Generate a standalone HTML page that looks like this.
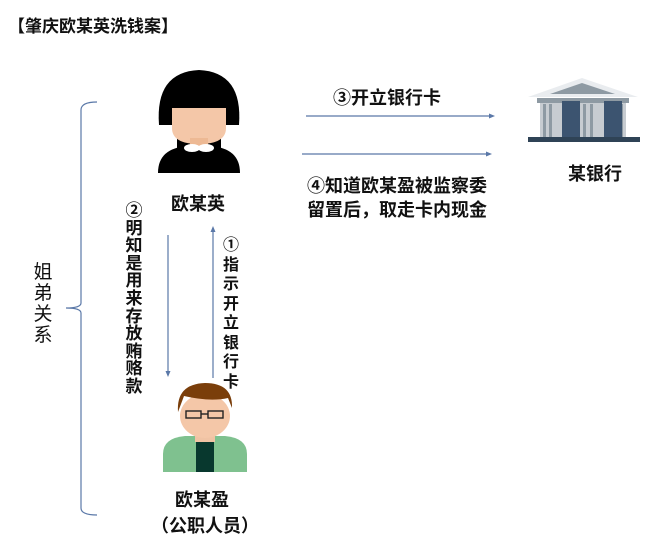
<!DOCTYPE html>
<html><head><meta charset="utf-8"><style>
body{margin:0;width:665px;height:542px;background:#fff;position:relative;overflow:hidden;font-family:"Liberation Sans","Noto Sans CJK SC",sans-serif;font-weight:bold;color:#111}
.t{position:absolute;white-space:nowrap}
.v{position:absolute;width:20px;text-align:center;font-size:17px;line-height:19.5px}
</style></head><body>
<div class="t" style="left:8px;top:12px;font-size:17px">【肇庆欧某英洗钱案】</div>
<div class="t" style="left:333px;top:84px;font-size:18px">③开立银行卡</div>
<div class="t" style="left:307px;top:174px;font-size:18px;line-height:24px">④知道欧某盈被监察委<br>留置后，取走卡内现金</div>
<div class="t" style="left:568px;top:160px;font-size:18px">某银行</div>
<div class="t" style="left:171px;top:190px;font-size:18px">欧某英</div>
<div class="t" style="left:175px;top:486px;font-size:18px">欧某盈</div>
<div class="t" style="left:151px;top:512px;font-size:18px">（公职人员）</div>
<div class="v" style="left:33px;top:262px;font-size:19px;line-height:21px;font-weight:normal">姐弟关系</div>
<div class="v" style="left:124px;top:202px;line-height:17.6px">②明知是用来存放贿赂款</div>
<div class="v" style="left:221px;top:236px;line-height:19.5px;font-size:16px">①指示开立银行卡</div>
<svg width="665" height="542" style="position:absolute;left:0;top:0">
<g stroke="#5a78a8" stroke-width="1.2" fill="none">
<path d="M97 102 Q81 102 81 110 L81 303 Q81 308 66 308 Q81 308 81 313 L81 508 Q81 515 97 515"/>
<line x1="306" y1="116" x2="492" y2="116"/><line x1="302" y1="154" x2="489" y2="154"/>
<line x1="168" y1="235" x2="168" y2="374"/><line x1="213" y1="378" x2="213" y2="229"/>
</g>
<g fill="#5a78a8"><path d="M495 116 l-6 -2.5 v5z"/><path d="M492 154 l-6 -2.5 v5z"/><path d="M168 377 l-2.5 -6 h5z"/><path d="M213 226 l-2.5 6 h5z"/></g>
<!-- woman -->
<path d="M159 125 Q155 72 199 70 Q243 72 239 125z" fill="#000"/>
<rect x="177" y="125" width="44" height="24" fill="#000"/>
<path d="M172 108 h54 v20 q0 16 -27 16 q-27 0 -27 -16z" fill="#f4c7a8"/>
<rect x="190" y="138" width="18" height="10" fill="#edb994"/>
<path d="M158 173 q0 -25 30 -27 h22 q30 2 30 27z" fill="#000"/>
<ellipse cx="192" cy="148" rx="8" ry="4" fill="#fff"/><ellipse cx="206" cy="148" rx="8" ry="4" fill="#fff"/>
<!-- man -->
<path d="M163 472 v-18 q0 -16 22 -18 h40 q22 2 22 18 v18z" fill="#7fc18f"/>
<rect x="196" y="440" width="18" height="32" fill="#08382e"/>
<rect x="195" y="430" width="20" height="12" fill="#f0c3a4"/>
<ellipse cx="205" cy="416" rx="25" ry="22" fill="#f4c7a8"/>
<path d="M178 412 q-2 -28 27 -29 q28 0 27 25 l-4 -10 q-18 4 -44 -2z" fill="#7a3e0a"/>
<g fill="none" stroke="#222" stroke-width="1.4"><rect x="186" y="411" width="15" height="7"/><rect x="208" y="411" width="15" height="7"/><line x1="201" y1="414" x2="208" y2="414"/></g>
<!-- bank -->
<path d="M528 97 L582 78 L638 97z" fill="#e9ecef"/>
<path d="M550 94 L582 83 L615 94z" fill="#8e9aa3"/>
<rect x="537" y="98" width="92" height="5" fill="#8e9aa3"/>
<rect x="540" y="103" width="86" height="34" fill="#c7ccd1"/>
<g fill="#8e9aa3"><rect x="543" y="104" width="3" height="33"/><rect x="549" y="104" width="3" height="33"/><rect x="583" y="104" width="3" height="33"/><rect x="590" y="104" width="3" height="33"/><rect x="614" y="104" width="3" height="33"/><rect x="620" y="104" width="3" height="33"/></g>
<rect x="562" y="101" width="18" height="36" fill="#3c5470"/><rect x="604" y="101" width="18" height="36" fill="#3c5470"/>
<rect x="528" y="137" width="112" height="5" fill="#2f4356"/>
</svg>
</body></html>
